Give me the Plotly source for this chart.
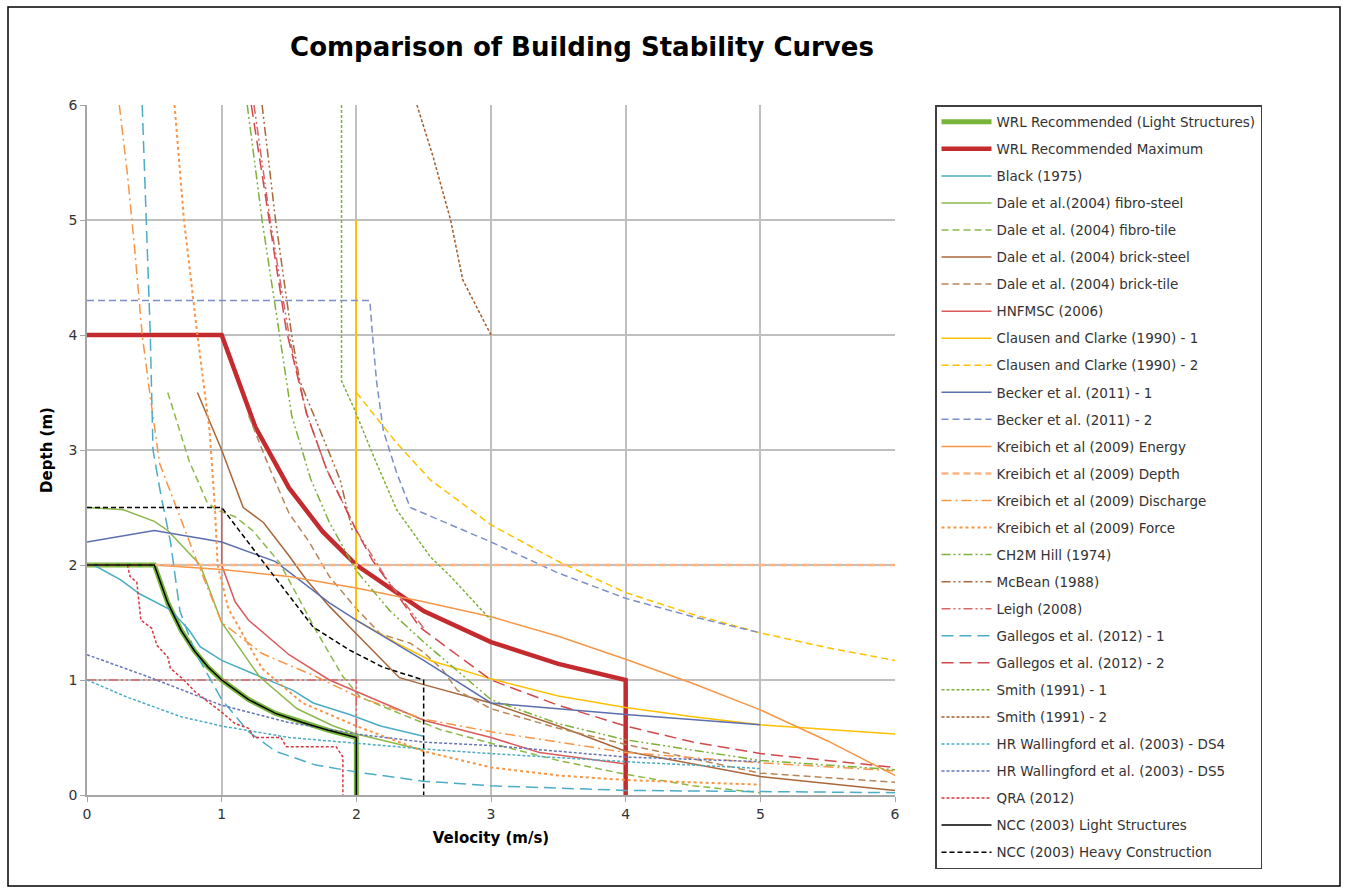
import plotly.graph_objects as go

# ---- series data: velocity (m/s) and depth (m) ----
wrl_light_v = [0, 0.5, 0.6, 0.7, 0.8, 0.9, 1.0, 1.2, 1.4, 1.6, 1.8, 2.0, 2.0]
wrl_light_d = [2.0, 2.0, 1.67, 1.43, 1.25, 1.11, 1.0, 0.83, 0.71, 0.63, 0.56, 0.5, 0.0]

wrl_max_v = [0, 1.0, 1.25, 1.5, 1.75, 2.0, 2.5, 3.0, 3.5, 4.0, 4.0]
wrl_max_d = [4.0, 4.0, 3.2, 2.67, 2.29, 2.0, 1.6, 1.33, 1.14, 1.0, 0.0]

black_v = [0.05, 0.25, 0.39, 0.62, 0.76, 0.84, 1.0, 1.28, 1.53, 1.68, 1.95, 2.18, 2.5]
black_d = [2.0, 1.87, 1.75, 1.61, 1.43, 1.29, 1.17, 1.03, 0.91, 0.8, 0.7, 0.6, 0.51]

dale_fs_v = [0, 0.27, 0.5, 0.6, 0.84, 1.0, 1.28, 1.56, 1.83, 2.0, 2.5]
dale_fs_d = [2.5, 2.48, 2.38, 2.3, 2.0, 1.5, 1.03, 0.75, 0.6, 0.53, 0.39]

dale_ft_v = [0.6, 0.76, 0.89, 0.96, 1.1, 1.23, 1.43, 1.71, 1.9, 2.03, 2.32, 2.62, 3.0, 3.5, 4.0, 4.5, 5.0]
dale_ft_d = [3.5, 2.9, 2.55, 2.48, 2.42, 2.3, 2.02, 1.41, 1.03, 0.85, 0.71, 0.57, 0.45, 0.3, 0.18, 0.08, 0.02]

dale_bs_v = [0.82, 1.0, 1.16, 1.31, 1.5, 1.63, 1.8, 2.0, 2.32, 2.5, 3.0, 3.5, 4.0, 5.0, 6.0]
dale_bs_d = [3.5, 3.0, 2.5, 2.37, 2.08, 1.87, 1.64, 1.4, 1.02, 0.96, 0.8, 0.6, 0.38, 0.16, 0.04]

dale_bt_v = [1.2, 1.36, 1.5, 1.65, 1.8, 2.0, 2.18, 2.4, 2.5, 2.64, 2.75, 3.0, 3.5, 4.0, 5.0, 6.0]
dale_bt_d = [3.3, 2.83, 2.45, 2.2, 1.9, 1.62, 1.4, 1.32, 1.24, 1.09, 0.91, 0.75, 0.58, 0.44, 0.19, 0.11]

hnfmsc_v = [1.0, 1.0, 1.1, 1.2, 1.5, 1.8, 2.0, 2.5, 3.0, 3.36, 4.0]
hnfmsc_d = [2.5, 2.0, 1.68, 1.52, 1.22, 1.0, 0.9, 0.65, 0.5, 0.37, 0.27]

clausen1_v = [2.0, 2.0, 2.3, 2.55, 3.0, 3.5, 4.0, 4.5, 5.0, 5.5, 6.0]
clausen1_d = [5.0, 1.52, 1.32, 1.17, 1.01, 0.86, 0.76, 0.68, 0.61, 0.57, 0.53]

clausen2_v = [2.0, 2.3, 2.55, 3.0, 3.5, 4.0, 4.5, 5.0, 5.5, 6.0]
clausen2_d = [3.5, 3.06, 2.74, 2.35, 2.03, 1.76, 1.57, 1.41, 1.28, 1.17]

becker1_v = [0, 0.5, 1.0, 1.4, 1.8, 2.0, 2.5, 3.0, 4.0, 5.0]
becker1_d = [2.2, 2.3, 2.2, 2.03, 1.67, 1.52, 1.17, 0.8, 0.7, 0.61]

becker2_v = [0, 2.1, 2.12, 2.15, 2.2, 2.3, 2.4, 3.0, 3.5, 4.0, 4.5, 5.0]
becker2_d = [4.3, 4.3, 4.0, 3.6, 3.17, 2.8, 2.5, 2.2, 1.93, 1.71, 1.55, 1.41]

kr_energy_v = [0.5, 1.0, 1.5, 2.0, 2.5, 3.0, 3.5, 4.0, 4.5, 5.0, 5.5, 6.0]
kr_energy_d = [2.0, 1.96, 1.9, 1.8, 1.68, 1.55, 1.38, 1.18, 0.97, 0.74, 0.47, 0.17]

kr_depth_v = [0, 6.0]
kr_depth_d = [2.0, 2.0]

kr_discharge_v = [0.24, 0.3, 0.35, 0.41, 0.47, 0.54, 0.69, 0.82, 1.0, 1.3, 1.7, 2.0, 2.5, 3.0, 4.0, 5.0, 6.0]
kr_discharge_d = [6.0, 5.4, 4.8, 4.0, 3.46, 2.88, 2.42, 2.02, 1.5, 1.23, 1.03, 0.86, 0.66, 0.55, 0.37, 0.28, 0.21]

kr_force_v = [0.65, 0.72, 0.82, 0.91, 0.95, 0.97, 1.05, 1.3, 1.6, 2.0, 2.5, 3.0, 3.5, 4.0, 5.0]
kr_force_d = [6.0, 5.0, 4.0, 3.17, 2.5, 2.0, 1.62, 1.1, 0.8, 0.6, 0.38, 0.24, 0.17, 0.13, 0.09]

ch2m_v = [1.19, 1.3, 1.43, 1.52, 1.66, 1.8, 2.0, 2.25, 2.5, 3.0, 3.5, 4.0, 5.0, 6.0]
ch2m_d = [6.0, 5.0, 4.0, 3.3, 2.75, 2.37, 1.95, 1.6, 1.33, 0.83, 0.62, 0.48, 0.3, 0.22]

mcbean_v = [1.3, 1.4, 1.52, 1.58, 1.78, 1.88, 1.97]
mcbean_d = [6.0, 5.0, 4.0, 3.6, 3.03, 2.74, 2.3]

leigh_v = [1.24, 1.36, 1.5, 1.63, 1.78, 1.9, 2.0, 2.23, 2.5, None, 0, 2.0, 2.0]
leigh_d = [6.0, 5.0, 4.0, 3.32, 2.83, 2.54, 2.3, 1.87, 1.45, None, 1.0, 1.0, 0.5]

gallegos1_v = [0.41, 0.44, 0.47, 0.49, 0.55, 0.62, 0.69, 0.8, 1.0, 1.2, 1.4, 1.7, 2.0, 2.5, 3.0, 4.0, 5.0, 6.0]
gallegos1_d = [6.0, 5.0, 4.0, 3.0, 2.6, 2.2, 1.6, 1.25, 0.83, 0.55, 0.38, 0.26, 0.2, 0.12, 0.08, 0.04, 0.03, 0.02]

gallegos2_v = [1.22, 1.35, 1.48, 1.63, 1.78, 1.9, 2.0, 2.12, 2.3, 2.47, 3.0, 3.5, 4.0, 4.5, 5.0, 6.0]
gallegos2_d = [6.0, 5.0, 4.04, 3.32, 2.83, 2.54, 2.3, 2.04, 1.75, 1.46, 1.0, 0.78, 0.6, 0.46, 0.36, 0.24]

smith1_v = [1.89, 1.89, 1.98, 2.13, 2.3, 2.55, 2.7, 3.0]
smith1_d = [6.0, 3.6, 3.37, 2.94, 2.48, 2.07, 1.9, 1.52]

smith2_v = [2.45, 2.57, 2.7, 2.79, 3.0]
smith2_d = [6.0, 5.55, 5.0, 4.48, 4.0]

hr_ds4_v = [0, 0.3, 0.7, 1.0, 1.5, 2.0, 2.5, 3.0, 4.0, 5.0]
hr_ds4_d = [1.0, 0.85, 0.68, 0.6, 0.5, 0.45, 0.4, 0.36, 0.29, 0.23]

hr_ds5_v = [0, 0.45, 1.0, 1.5, 2.0, 2.5, 3.0, 3.5, 4.0, 5.0]
hr_ds5_d = [1.22, 1.03, 0.78, 0.63, 0.53, 0.46, 0.43, 0.38, 0.33, 0.29]

qra_v = [0.3, 0.32, 0.37, 0.4, 0.48, 0.52, 0.6, 0.62, 0.72, 0.8, 1.0, 1.1, 1.2, 1.24, 1.44, 1.48, 1.85, 1.9, 1.9]
qra_d = [2.0, 1.9, 1.85, 1.52, 1.45, 1.3, 1.2, 1.1, 1.0, 0.9, 0.72, 0.62, 0.58, 0.5, 0.5, 0.42, 0.42, 0.33, 0.0]

ncc_light_v = [0, 0.5, 0.6, 0.7, 0.8, 0.9, 1.0, 1.2, 1.4, 1.6, 1.8, 2.0, 2.0]
ncc_light_d = [2.0, 2.0, 1.67, 1.43, 1.25, 1.11, 1.0, 0.83, 0.71, 0.63, 0.56, 0.5, 0.0]

ncc_heavy_v = [0, 1.0, 1.28, 1.68, 1.95, 2.2, 2.5, 2.5]
ncc_heavy_d = [2.5, 2.5, 2.07, 1.46, 1.26, 1.11, 1.0, 0.0]

# ---- curve names, in legend order ----
names = [
    "WRL Recommended (Light Structures)", "WRL Recommended Maximum", "Black (1975)",
    "Dale et al.(2004) fibro-steel", "Dale et al. (2004) fibro-tile",
    "Dale et al. (2004) brick-steel", "Dale et al. (2004) brick-tile", "HNFMSC (2006)",
    "Clausen and Clarke (1990) - 1", "Clausen and Clarke (1990) - 2",
    "Becker et al. (2011) - 1", "Becker et al. (2011) - 2",
    "Kreibich et al (2009) Energy", "Kreibich et al (2009) Depth",
    "Kreibich et al (2009) Discharge", "Kreibich et al (2009) Force",
    "CH2M Hill (1974)", "McBean (1988)", "Leigh (2008)",
    "Gallegos et al. (2012) - 1", "Gallegos et al. (2012) - 2",
    "Smith (1991) - 1", "Smith (1991) - 2",
    "HR Wallingford et al. (2003) - DS4", "HR Wallingford et al. (2003) - DS5",
    "QRA (2012)", "NCC (2003) Light Structures", "NCC (2003) Heavy Construction",
]

series = [
    (wrl_light_v, wrl_light_d), (wrl_max_v, wrl_max_d), (black_v, black_d),
    (dale_fs_v, dale_fs_d), (dale_ft_v, dale_ft_d), (dale_bs_v, dale_bs_d),
    (dale_bt_v, dale_bt_d), (hnfmsc_v, hnfmsc_d), (clausen1_v, clausen1_d),
    (clausen2_v, clausen2_d), (becker1_v, becker1_d), (becker2_v, becker2_d),
    (kr_energy_v, kr_energy_d), (kr_depth_v, kr_depth_d),
    (kr_discharge_v, kr_discharge_d), (kr_force_v, kr_force_d),
    (ch2m_v, ch2m_d), (mcbean_v, mcbean_d), (leigh_v, leigh_d),
    (gallegos1_v, gallegos1_d), (gallegos2_v, gallegos2_d),
    (smith1_v, smith1_d), (smith2_v, smith2_d),
    (hr_ds4_v, hr_ds4_d), (hr_ds5_v, hr_ds5_d), (qra_v, qra_d),
    (ncc_light_v, ncc_light_d), (ncc_heavy_v, ncc_heavy_d),
]

# ---- line styles: (colour, width, dash) ----
DDOT = "9px,3px,2px,3px,2px,3px"
styles = [
    ("#77B43A", 5.0, "solid"),
    ("#C42B2E", 4.5, "solid"),
    ("#4BACC6", 1.5, "solid"),
    ("#8DB84A", 1.5, "solid"),
    ("#8DB84A", 1.5, "7px,4px"),
    ("#A8673A", 1.5, "solid"),
    ("#B98659", 1.5, "7px,4px"),
    ("#D95B5D", 1.5, "solid"),
    ("#FFC000", 1.5, "solid"),
    ("#FFC000", 1.5, "7px,4px"),
    ("#5B6EAE", 1.5, "solid"),
    ("#7D8FC8", 1.5, "7px,4px"),
    ("#F79646", 1.5, "solid"),
    ("#FBB584", 2.5, "7px,4px"),
    ("#F79646", 1.5, "10px,4px,2px,4px"),
    ("#F79646", 2.0, "dot"),
    ("#7FB13A", 1.5, DDOT),
    ("#A9693B", 1.5, DDOT),
    ("#D9676A", 1.5, DDOT),
    ("#4BACC6", 1.5, "12px,6px"),
    ("#D0494B", 1.5, "12px,6px"),
    ("#7FB13A", 1.5, "3px,2px"),
    ("#A35E2A", 1.5, "3px,2px"),
    ("#4BACC6", 1.5, "3px,2px"),
    ("#6574B8", 1.5, "3px,2px"),
    ("#D8393F", 1.5, "3px,2px"),
    ("#000000", 1.5, "solid"),
    ("#000000", 1.5, "5px,3px"),
]

fig = go.Figure()
for i, (name, (v, d), (col, w, dash)) in enumerate(zip(names, series, styles)):
    fig.add_trace(go.Scatter(
        x=v, y=d, name=name, mode="lines",
        line=dict(color=col, width=w, dash=dash),
        legendgroup=f"g{i}", connectgaps=False,
    ))

FONT = "DejaVu Sans"
grid = "#BFBFBF"

fig.update_layout(
    width=1348, height=894,
    margin=dict(l=87, r=453, t=105, b=99),
    paper_bgcolor="white", plot_bgcolor="white",
    font=dict(family=FONT, size=14, color="#333333"),
    title=dict(
        text="Comparison of Building Stability Curves",
        font=dict(family=FONT, size=26, color="#000000", weight="bold"),
        x=582 / 1348, xanchor="center", y=1 - 47 / 894, yanchor="middle",
    ),
    xaxis=dict(
        range=[0, 6], dtick=1, tick0=0,
        showgrid=True, gridcolor=grid, gridwidth=1.5,
        showline=True, linecolor="#A6A6A6", linewidth=1.5,
        ticks="outside", ticklen=5, tickcolor="#A6A6A6",
        zeroline=False,
        tickfont=dict(family=FONT, size=14, color="#333333"),
        title=dict(text="Velocity (m/s)", standoff=12,
                   font=dict(family=FONT, size=15, color="#000000", weight="bold")),
    ),
    yaxis=dict(
        range=[0, 6], dtick=1, tick0=0,
        showgrid=True, gridcolor=grid, gridwidth=1.5,
        showline=True, linecolor="#A6A6A6", linewidth=1.5,
        ticks="outside", ticklen=5, tickcolor="#A6A6A6",
        zeroline=False,
        tickfont=dict(family=FONT, size=14, color="#333333"),
        title=dict(text="Depth (m)", standoff=12,
                   font=dict(family=FONT, size=15, color="#000000", weight="bold")),
    ),
    legend=dict(
        x=(935 - 87) / 808, y=1.0, xanchor="left", yanchor="top",
        bgcolor="white", bordercolor="#404040", borderwidth=1.5,
        font=dict(family=FONT, size=13.5, color="#333333"),
        traceorder="grouped", tracegroupgap=6.5,
        itemwidth=50, maxheight=800,
    ),
)

# outer frame around the whole chart
fig.add_shape(
    type="rect", xref="paper", yref="paper",
    x0=(8 - 87) / 808, x1=(1340 - 87) / 808,
    y0=(795 - 886) / 690, y1=(795 - 7) / 690,
    line=dict(color="#000000", width=1.5), fillcolor="rgba(0,0,0,0)",
    layer="below",
)

fig.write_html("out.html")
